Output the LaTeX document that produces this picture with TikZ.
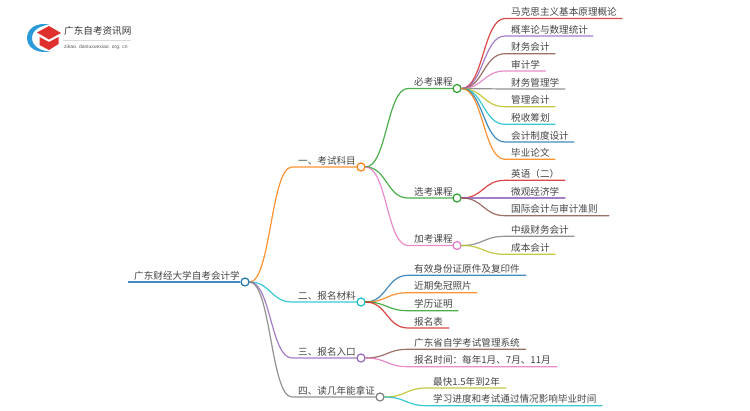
\documentclass[tikz,border=0pt]{standalone}
\usepackage{fontspec}
\setmainfont{Noto Sans CJK SC}
\newfontfamily\latinfont{Liberation Sans}
\usetikzlibrary{calc}
\definecolor{cblue}{HTML}{1F77B4}
\definecolor{corange}{HTML}{FF7F0E}
\definecolor{cgreen}{HTML}{2CA02C}
\definecolor{cred}{HTML}{D62728}
\definecolor{cpurple}{HTML}{9467BD}
\definecolor{cbrown}{HTML}{8C564B}
\definecolor{cpink}{HTML}{E377C2}
\definecolor{cgray}{HTML}{7F7F7F}
\definecolor{colive}{HTML}{BCBD22}
\definecolor{ccyan}{HTML}{17BECF}
\definecolor{txt}{HTML}{444444}
\definecolor{logoblue}{HTML}{2A9AD8}
\definecolor{logored}{HTML}{E0302E}
\tikzset{
  lbl/.style={text=txt,font=\fontsize{9.6}{11}\selectfont,inner sep=0pt,anchor=base west},
  dot/.style={circle,draw=#1,fill=white,line width=1.2pt,minimum size=8pt,inner sep=0pt},
  linkline/.style={line width=1.2pt,line cap=round,opacity=.85},
}
% name, colour, source, curve end x, y, line end x, text
\newcommand\branch[7]{%
  \coordinate (#1s) at (#4,#5);
  \coordinate (#1e) at (#6,#5);
  \draw[linkline,draw=#2] (#3.east) .. controls ($(#3.east)!.5!(#3.east -| #1s)$) and ($(#1s)!.5!(#3.east |- #1s)$) .. (#1s) -- (#1e);
  \node[lbl] (#1) at ($(#1s)+(6,-2.8)$) {#7};
}
\begin{document}
\begin{tikzpicture}[x=1pt,y=-1pt]
\useasboundingbox (0,0) rectangle (750,410);
% logo
\fill[logoblue] (49,24.5) .. controls (36,22) and (27,29) .. (27,38) .. controls (27,47) and (36,54) .. (50,51.5) .. controls (40,51) and (32,46) .. (32,38) .. controls (32,30) and (40,26) .. (49,24.5) -- cycle;
\fill[logored] (37,32.5) -- (49,26) -- (61,33) -- (49,39.5) -- cycle;
\fill[logored] (39.5,37) -- (49,42) -- (58.5,37) -- (58.5,44) -- (49,50) -- (39.5,45) -- cycle;
\node[inner sep=0pt,text=black!80,font=\fontsize{9.6}{11}\selectfont,anchor=west] (logotitle) at (64,31) {广东自考资讯网};
\draw[black!15,line width=.5pt] (63,40) -- (131,40);
\node[inner sep=0pt,text=black!65,font=\latinfont\fontsize{5}{6}\selectfont,anchor=west] (logourl) at (64,47) {zikao. daniuxuexiao. org. cn};
% root
\node[dot=cblue] (root) at (245,282) {};
\coordinate (roots) at (128,282);
\draw[line width=1.8pt,draw=cblue,opacity=.85] (roots) -- (root.west);
\node[lbl] (roott) at ($(roots)+(6,-2.8)$) {广东财经大学自考会计学};
% level 1 and 2 dots
\node[dot=corange] (a) at (361,167) {};
\node[dot=ccyan] (b) at (361,302) {};
\node[dot=cpurple] (c) at (361,358) {};
\node[dot=cgray] (d) at (380,397) {};
\node[dot=cgreen] (a1) at (457,88.5) {};
\node[dot=cgreen] (a2) at (457,198) {};
\node[dot=cpink] (a3) at (457,245.5) {};
% level 1
\branch{at}{corange}{root}{292}{167}{356.2}{一、考试科目}
\branch{bt}{ccyan}{root}{292}{302}{356.2}{二、报名材料}
\branch{ct}{cpurple}{root}{292}{358}{356.2}{三、报名入口}
\branch{dt}{cgray}{root}{292}{397}{375.2}{四、读几年能拿证}
% level 2
\branch{a1t}{cgreen}{a}{408}{88.5}{452.2}{必考课程}
\branch{a2t}{cgreen}{a}{408}{198}{452.2}{选考课程}
\branch{a3t}{cpink}{a}{408}{245.5}{452.2}{加考课程}
% leaves of a1
\branch{l1}{cred}{a1}{505}{18.5}{622}{马克思主义基本原理概论}
\branch{l2}{cpurple}{a1}{505}{36}{593}{概率论与数理统计}
\branch{l3}{cbrown}{a1}{505}{53.7}{555}{财务会计}
\branch{l4}{cpink}{a1}{505}{71}{545.5}{审计学}
\branch{l5}{cgray}{a1}{505}{89}{565}{财务管理学}
\branch{l6}{colive}{a1}{505}{106.7}{555}{管理会计}
\branch{l7}{ccyan}{a1}{505}{124.3}{555}{税收筹划}
\branch{l8}{cblue}{a1}{505}{142}{574}{会计制度设计}
\branch{l9}{corange}{a1}{505}{159.3}{555}{毕业论文}
% leaves of a2
\branch{m1}{cred}{a2}{505}{180.3}{565}{英语（二）}
\branch{m2}{cpurple}{a2}{505}{198}{565}{微观经济学}
\branch{m3}{cbrown}{a2}{505}{215.7}{609}{国际会计与审计准则}
% leaves of a3
\branch{n1}{cgray}{a3}{505}{236.3}{574}{中级财务会计}
\branch{n2}{colive}{a3}{505}{254.3}{555}{成本会计}
% leaves of b
\branch{p1}{cblue}{b}{408}{275.3}{525.7}{有效身份证原件及复印件}
\branch{p2}{corange}{b}{408}{292.7}{477}{近期免冠照片}
\branch{p3}{cgreen}{b}{408}{310.7}{458}{学历证明}
\branch{p4}{cred}{b}{408}{328}{449}{报名表}
% leaves of c
\branch{q1}{cbrown}{c}{408}{349.3}{525.7}{广东省自学考试管理系统}
\branch{q2}{cpink}{c}{408}{366.7}{557}{报名时间：每年1月、7月、11月}
% leaves of d
\branch{r1}{colive}{d}{427}{388}{506}{最快1.5年到2年}
\branch{r2}{ccyan}{d}{427}{405.7}{602}{学习进度和考试通过情况影响毕业时间}
\end{tikzpicture}
\end{document}
